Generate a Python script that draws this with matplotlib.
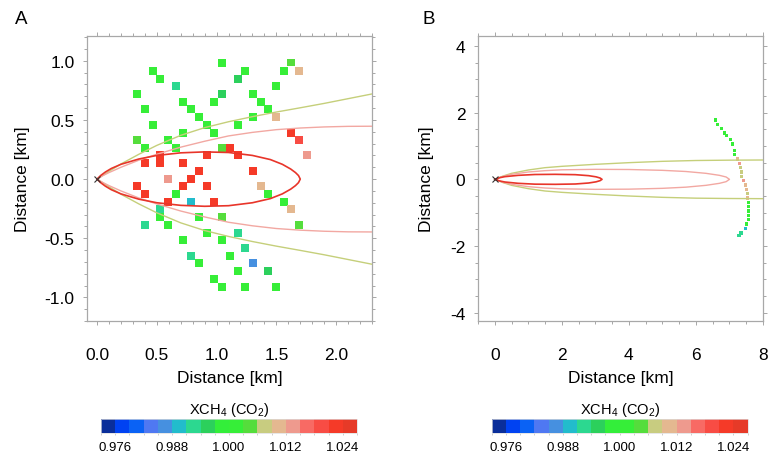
import numpy as np
import matplotlib
matplotlib.use('Agg')
import matplotlib.pyplot as plt
from matplotlib.colors import ListedColormap, BoundaryNorm
from matplotlib.cm import ScalarMappable
from matplotlib.ticker import MultipleLocator, FormatStrFormatter, FixedLocator

plt.rcParams['font.family'] = ['Liberation Sans', 'DejaVu Sans']
plt.rcParams['axes.unicode_minus'] = False
plt.rcParams['mathtext.default'] = 'regular'

# discrete XCH4 (CO2) colour scale, 18 classes of 0.003
cb_colors = ['#0a2e9a', '#0042f2', '#0a62f5', '#4f78f2', '#4690e0', '#22bccc',
             '#2cd890', '#2cd05c', '#33ee3a', '#36ee38', '#55dd3c', '#c8cc80',
             '#e4b890', '#ee9a8e', '#f86a64', '#f84c44', '#f53a28', '#e63a28']
cb_bounds = [0.973, 0.976, 0.979, 0.982, 0.985, 0.988, 0.991, 0.994, 0.997, 1.000,
             1.003, 1.006, 1.009, 1.012, 1.015, 1.018, 1.021, 1.024, 1.027]
cb_ticks = [0.976, 0.988, 1.000, 1.012, 1.024]

# panel A: soundings (x, y in km, XCH4 ratio)
xa = [1.046, 1.623, 1.693, 1.565, 0.466, 0.530, 1.241, 1.177, 0.661, 1.498,
      0.335, 1.046, 0.982, 1.305, 1.370, 1.434, 0.722, 0.789, 0.402, 0.856,
      0.921, 0.982, 1.305, 1.177, 1.498, 0.466, 0.722, 1.623, 1.693, 1.757,
      0.335, 0.597, 0.402, 0.661, 1.046, 1.110, 1.177, 0.921, 0.530, 0.530,
      0.402, 0.722, 0.856, 1.305, 0.597, 0.789, 0.335, 0.722, 0.921, 1.370,
      0.402, 0.661, 1.434, 0.597, 0.789, 0.982, 1.565, 1.623, 0.530, 0.530,
      0.856, 1.046, 0.402, 0.597, 1.693, 0.921, 1.177, 0.722, 1.046, 1.241,
      0.789, 1.110, 0.856, 1.305, 1.177, 1.434, 0.982, 1.046, 1.241, 1.498]
ya = [0.978, 0.986, 0.913, 0.913, 0.913, 0.849, 0.913, 0.849, 0.786, 0.786,
      0.719, 0.719, 0.654, 0.719, 0.654, 0.592, 0.654, 0.592, 0.592, 0.527,
      0.460, 0.392, 0.527, 0.460, 0.527, 0.460, 0.392, 0.392, 0.327, 0.200,
      0.330, 0.330, 0.265, 0.265, 0.265, 0.265, 0.200, 0.200, 0.200, 0.135,
      0.135, 0.135, 0.071, 0.071, 0.003, 0.003, -0.059, -0.059, -0.059, -0.059,
      -0.124, -0.124, -0.124, -0.191, -0.191, -0.191, -0.191, -0.256, -0.256, -0.321,
      -0.321, -0.321, -0.389, -0.389, -0.389, -0.453, -0.453, -0.518, -0.518, -0.583,
      -0.648, -0.648, -0.713, -0.713, -0.777, -0.777, -0.845, -0.910, -0.910, -0.910]
va = [1.0015, 1.0045, 1.0105, 1.0015, 1.0015, 1.0015, 1.0015, 0.9955, 0.9925, 1.0015,
      1.0015, 0.9955, 1.0015, 1.0015, 1.0015, 1.0015, 1.0015, 1.0015, 1.0015, 1.0015,
      1.0015, 1.0015, 1.0015, 1.0015, 1.0105, 1.0015, 1.0015, 1.0225, 1.0195, 1.0135,
      1.0045, 1.0015, 1.0015, 1.0015, 1.0045, 1.0225, 1.0225, 1.0225, 1.0225, 1.0225,
      1.0225, 1.0225, 1.0225, 1.0225, 1.0135, 1.0225, 1.0225, 1.0225, 1.0225, 1.0105,
      1.0225, 1.0015, 1.0015, 1.0225, 0.9895, 1.0225, 1.0015, 1.0105, 0.9925, 1.0015,
      1.0015, 1.0045, 0.9925, 1.0015, 1.0045, 1.0015, 0.9925, 1.0015, 1.0015, 0.9925,
      0.9925, 1.0015, 1.0015, 0.9865, 1.0015, 0.9955, 1.0015, 1.0015, 1.0015, 1.0015]

# panel A: plume contours (half widths, km)
a_red_x = [0, 0.03, 0.07, 0.12, 0.2, 0.35, 0.5, 0.7, 0.9, 1.1, 1.3, 1.45, 1.55, 1.62, 1.66, 1.685, 1.70]
a_red_y = [0, 0.03, 0.06, 0.09, 0.125, 0.17, 0.20, 0.222, 0.230, 0.225, 0.200, 0.165, 0.125, 0.085, 0.055, 0.030, 0]
a_pink_x = [0, 0.05, 0.1, 0.2, 0.35, 0.5, 0.7, 0.9, 1.1, 1.3, 1.5, 1.7, 1.9, 2.1, 2.3]
a_pink_y = [0, 0.03, 0.055, 0.10, 0.16, 0.21, 0.27, 0.32, 0.365, 0.395, 0.418, 0.432, 0.441, 0.446, 0.447]
a_olive_x = [0, 0.05, 0.1, 0.2, 0.35, 0.5, 0.7, 0.9, 1.1, 1.3, 1.5, 1.7, 1.9, 2.1, 2.3]
a_olive_y = [0, 0.032, 0.065, 0.128, 0.21, 0.285, 0.37, 0.435, 0.485, 0.528, 0.567, 0.603, 0.640, 0.680, 0.720]

# panel B: plume contours
b_red_x = [0, 0.15, 0.3, 0.7, 1.2, 1.8, 2.4, 2.8, 3.02, 3.14, 3.2]
b_red_y = [0, 0.05, 0.08, 0.12, 0.145, 0.15, 0.14, 0.11, 0.075, 0.04, 0]
b_pink_x = [0, 0.25, 0.5, 1.0, 1.5, 2.0, 3.0, 4.0, 5.0, 5.7, 6.3, 6.7, 6.9, 7.0]
b_pink_y = [0, 0.09, 0.15, 0.22, 0.26, 0.285, 0.30, 0.295, 0.27, 0.235, 0.18, 0.12, 0.07, 0]
b_olive_x = [0, 0.25, 0.5, 1.0, 1.5, 2.0, 3.0, 4.0, 5.0, 6.0, 7.0, 8.0]
b_olive_y = [0, 0.10, 0.18, 0.28, 0.35, 0.39, 0.45, 0.50, 0.54, 0.565, 0.575, 0.58]

# panel B: soundings
xb = [6.575, 6.645, 6.775, 6.844, 6.904, 7.023, 7.093, 7.163, 7.163, 7.233,
      7.292, 7.322, 7.362, 7.362, 7.422, 7.482, 7.502, 7.542, 7.542, 7.562,
      7.562, 7.562, 7.562, 7.562, 7.502, 7.482, 7.343, 7.283]
yb = [1.78, 1.65, 1.52, 1.39, 1.32, 1.20, 1.06, 0.86, 0.74, 0.61,
      0.48, 0.35, 0.22, 0.08, -0.04, -0.17, -0.30, -0.43, -0.56, -0.69,
      -0.82, -0.95, -1.08, -1.21, -1.34, -1.47, -1.61, -1.68]
vb = [1.0015, 1.0015, 1.0015, 1.0015, 1.0015, 1.0015, 1.0015, 1.0015, 1.0015, 1.0105,
      1.0135, 1.0075, 1.0075, 1.0075, 1.0135, 1.0105, 1.0105, 1.0075, 1.0105, 1.0015,
      1.0015, 1.0015, 1.0015, 1.0015, 1.0015, 0.9895, 0.9925, 0.9925]

cmap = ListedColormap(cb_colors)
norm = BoundaryNorm(cb_bounds, cmap.N)

RED = '#e8352a'
PINK = '#f2a8a2'
OLIVE = '#c5cf7a'
FRAME = '#a8a8a8'


def plume(ax, x, y, color, lw, closed):
    x = np.asarray(x)
    y = np.asarray(y)
    if closed:
        ax.plot(np.r_[x, x[::-1]], np.r_[y, -y[::-1]], color=color, lw=lw, zorder=4)
    else:
        ax.plot(x, y, color=color, lw=lw, zorder=4)
        ax.plot(x, -y, color=color, lw=lw, zorder=4)


def style(ax):
    for sp in ax.spines.values():
        sp.set_color(FRAME)
        sp.set_linewidth(0.9)
    ax.tick_params(which='both', direction='out', color='#999999', width=0.6,
                   top=True, right=True, labelsize=12.5)
    ax.tick_params(which='major', length=3)
    ax.tick_params(which='minor', length=2)
    ax.tick_params(axis='x', pad=16)
    ax.tick_params(axis='y', pad=6)


fig = plt.figure(figsize=(7.69, 4.56), dpi=100)

# ---- panel A
axA = fig.add_axes([87 / 769, 1 - 322 / 456, 285 / 769, 285 / 456])
axA.scatter(xa, ya, c=va, cmap=cmap, norm=norm, marker='s', s=33, linewidths=0, zorder=3)
plume(axA, a_olive_x, a_olive_y, OLIVE, 1.0, False)
plume(axA, a_pink_x, a_pink_y, PINK, 1.0, False)
plume(axA, a_red_x, a_red_y, RED, 1.2, True)
axA.plot([0], [0], marker='x', color='#333333', ms=5, mew=0.8, zorder=5)
axA.set_xlim(-0.084, 2.30)
axA.set_ylim(-1.20, 1.21)
axA.xaxis.set_major_locator(MultipleLocator(0.5))
axA.xaxis.set_minor_locator(MultipleLocator(0.1))
axA.yaxis.set_major_locator(MultipleLocator(0.5))
axA.yaxis.set_minor_locator(MultipleLocator(0.1))
axA.xaxis.set_major_formatter(FormatStrFormatter('%.1f'))
axA.yaxis.set_major_formatter(FormatStrFormatter('%.1f'))
style(axA)
axA.set_xlabel('Distance [km]', fontsize=12.5, va='center')
axA.xaxis.set_label_coords(0.5, -0.2)
axA.set_ylabel('Distance [km]', fontsize=12.5, va='center')
axA.yaxis.set_label_coords(-0.228, 0.5)

# ---- panel B
axB = fig.add_axes([478 / 769, 1 - 322 / 456, 285 / 769, 285 / 456])
axB.scatter(xb, yb, c=vb, cmap=cmap, norm=norm, marker='s', s=5, linewidths=0, zorder=3)
plume(axB, b_olive_x, b_olive_y, OLIVE, 1.0, False)
plume(axB, b_pink_x, b_pink_y, PINK, 1.0, True)
plume(axB, b_red_x, b_red_y, RED, 1.2, True)
axB.plot([0], [0], marker='x', color='#333333', ms=5, mew=0.8, zorder=5)
axB.set_xlim(-0.5, 8.0)
axB.set_ylim(-4.25, 4.3)
axB.xaxis.set_major_locator(MultipleLocator(2))
axB.xaxis.set_minor_locator(MultipleLocator(0.5))
axB.yaxis.set_major_locator(MultipleLocator(2))
axB.yaxis.set_minor_locator(MultipleLocator(0.5))
style(axB)
axB.set_xlabel('Distance [km]', fontsize=12.5, va='center')
axB.xaxis.set_label_coords(0.5, -0.2)
axB.set_ylabel('Distance [km]', fontsize=12.5, va='center')
axB.yaxis.set_label_coords(-0.18, 0.5)

# ---- colour bars
sm = ScalarMappable(norm=norm, cmap=cmap)
for left in (101 / 769, 491.7 / 769):
    cax = fig.add_axes([left, 1 - 434 / 456, 256 / 769, 14.5 / 456])
    cb = fig.colorbar(sm, cax=cax, orientation='horizontal', ticks=cb_ticks)
    cb.outline.set_edgecolor('#dddddd')
    cb.outline.set_linewidth(0.5)
    cax.xaxis.set_major_formatter(FormatStrFormatter('%.3f'))
    cax.xaxis.set_minor_locator(FixedLocator(cb_bounds))
    cax.tick_params(which='both', length=1.5, color='#bbbbbb', width=0.5,
                    labelsize=9.5, pad=4)
    cax.set_title('XCH$_4$ (CO$_2$)', fontsize=10.5, pad=3)

fig.text(15 / 769, 1 - 11 / 456, 'A', fontsize=13.5, ha='left', va='top')
fig.text(422 / 769, 1 - 11 / 456, 'B', fontsize=13.5, ha='left', va='top')

fig.savefig('out.png', dpi=100)
